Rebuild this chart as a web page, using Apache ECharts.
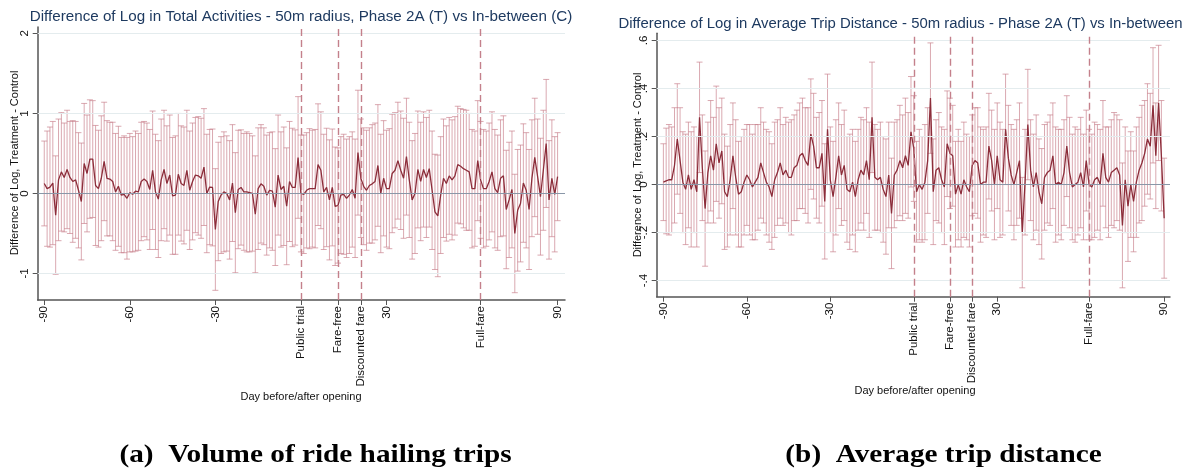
<!DOCTYPE html>
<html>
<head>
<meta charset="utf-8">
<script src="https://cdn.jsdelivr.net/npm/echarts@6/dist/echarts.min.js"></script>
<style>
html, body { margin: 0; padding: 0; background: #fff; }
#chart { width: 1189px; height: 473px; }
</style>
</head>
<body>
<div id="chart"></div>
<script>
// days before/after opening, -90 .. 90
var days = [];
for (var d = -90; d <= 90; d++) days.push(d);

var xTicks = [-90, -60, -30, 30, 90];
var eventDays = [0, 13, 21, 63];
var eventNames = ['Public trial', 'Fare-free', 'Discounted fare', 'Full-fare'];

var yTicksA = [-1, 0, 1, 2];
var yTicksB = [-0.4, -0.2, 0, 0.2, 0.4, 0.6];

// (a) total activities: point estimate and CI half width
var diffA = [
    0.125, 0.06, 0.08, 0.13, -0.27, 0.17, 0.27, 0.2, 0.3, 0.2,
    0.15, 0.17, 0.04, -0.1, 0.375, 0.25, 0.43, 0.43, 0.1, 0.06,
    0.19, 0.4, 0.19, 0.18, 0.15, 0.02, 0.09, -0.02, -0.01, -0.06,
    0.01, -0.01, 0.03, 0.02, 0.15, 0.18, 0.15, 0.05, 0.29, 0.02,
    -0.07, 0.17, 0.3, 0.125, 0.23, -0.03, -0.02, 0.24, 0.125, 0.1,
    0.29, 0.04, 0.15, 0.23, 0.22, 0.19, 0.33, 0, 0.08, 0.075,
    -0.45, -0.1, -0.02, 0.02, 0, -0.08, 0.13, -0.24, 0.05, 0.075,
    0.02, 0.02, 0.01, 0, -0.26, 0.06, 0.12, 0.09, -0.02, 0.04,
    0.03, -0.17, 0.23, 0.05, 0.09, -0.16, 0.15, 0.075, 0.075, 0.45,
    0, -0.01, 0.04, 0.06, 0.06, 0.06, 0.36, 0.29, 0.02, 0.075,
    -0.08, 0.075, -0.16, -0.15, -0.02, -0.01, -0.06, -0.02, 0.05, -0.06,
    0.51, 0.19, 0.09, 0.04, 0.1, 0.12, 0.15, 0.35, 0, 0.19,
    0.06, 0.06, 0.25, 0.29, 0.41, 0.29, 0.19, 0.46, 0.17, -0.08,
    0, 0.3, 0.15, 0.3, 0.2, 0.31, 0.04, -0.23, -0.28, -0.02,
    0.19, 0.125, 0.22, 0.17, 0.22, 0.36, 0.34, 0.31, 0.29, 0.27,
    0.06, 0.06, 0.41, 0.17, 0.06, 0.06, 0.15, 0.27, 0.06, 0.01,
    0.19, 0.22, -0.2, -0.08, 0.05, -0.5, -0.21, -0.125, 0.13, 0.04,
    -0.2, 0.19, 0.45, 0.21, -0.04, 0.29, 0.625, -0.08, 0.19, -0.01,
    0.21
];
var ciA = [
    0.53, 0.72, 0.75, 0.77, 0.74, 0.76, 0.74, 0.68, 0.74, 0.70,
    0.76, 0.73, 0.72, 0.73, 0.75, 0.73, 0.74, 0.73, 0.75, 0.73,
    0.78, 0.74, 0.72, 0.71, 0.74, 0.73, 0.75, 0.72, 0.73, 0.76,
    0.74, 0.72, 0.75, 0.73, 0.74, 0.72, 0.73, 0.75, 0.74, 0.72,
    0.73, 0.76, 0.74, 0.72, 0.75, 0.73, 0.74, 0.76, 0.72, 0.73,
    0.75, 0.74, 0.73, 0.72, 0.74, 0.75, 0.73, 0.74, 0.72, 0.73,
    0.76, 0.74, 0.73, 0.75, 0.72, 0.74, 0.73, 0.75, 0.74, 0.72,
    0.73, 0.75, 0.74, 0.72, 0.73, 0.76, 0.74, 0.73, 0.75, 0.72,
    0.74, 0.73, 0.75, 0.72, 0.74, 0.73, 0.75, 0.74, 0.72, 0.76,
    0.73, 0.74, 0.72, 0.75, 0.73, 0.74, 0.76, 0.73, 0.72, 0.74,
    0.75, 0.73, 0.74, 0.72, 0.73, 0.75, 0.74, 0.73, 0.72, 0.74,
    0.78, 0.74, 0.73, 0.75, 0.72, 0.74, 0.73, 0.76, 0.74, 0.72,
    0.73, 0.75, 0.74, 0.72, 0.73, 0.74, 0.75, 0.73, 0.72, 0.74,
    0.75, 0.73, 0.74, 0.72, 0.75, 0.73, 0.74, 0.72, 0.76, 0.73,
    0.74, 0.72, 0.73, 0.75, 0.74, 0.73, 0.72, 0.74, 0.75, 0.73,
    0.74, 0.72, 0.75, 0.73, 0.74, 0.72, 0.73, 0.75, 0.74, 0.72,
    0.73, 0.75, 0.74, 0.72, 0.73, 0.74, 0.76, 0.73, 0.74, 0.72,
    0.75, 0.73, 0.74, 0.72, 0.73, 0.75, 0.80, 0.74, 0.73, 0.72,
    0.55
];

// (b) average trip distance
var diffB = [
    0.01, 0.015, 0.02, 0.02, 0.08, 0.19, 0.1, 0.01, -0.02, 0.04,
    -0.02, 0.02, -0.03, 0.28, 0.07, -0.1, 0.05, 0.12, 0.06, 0.17,
    0.09, 0.14, -0.03, -0.05, 0.02, 0.12, 0.03, -0.04, -0.03, 0.01,
    0.04, 0.02, -0.01, 0.01, 0.03, 0.09, 0.05, 0.01, -0.01, -0.05,
    0.02, 0.05, 0.09, 0.04, 0.06, 0.03, 0.03, 0.07, 0.08, 0.12,
    0.13, 0.1, 0.08, 0.21, 0.16, 0.07, 0.07, 0.13, -0.07, 0.23,
    0.02, -0.05, 0.03, 0.12, 0.04, 0.08, -0.02, -0.03, 0.01, -0.05,
    0.02, 0.06, 0.04, 0.1, 0.02, 0.28, 0.03, 0.02, 0.03, -0.02,
    -0.05, 0.04, -0.12, 0.04, 0.06, 0.1, 0.07, 0.12, 0.08, 0.22,
    0.15, -0.03, 0, -0.02, 0.01, 0.1, 0.36, -0.03, 0.06, 0.07,
    0.02, -0.01, 0.17, 0.13, 0.12, -0.04, 0, -0.04, 0.02, -0.01,
    -0.03, 0.08, 0.1, 0.09, 0, 0.01, 0.01, 0.16, 0.1, 0,
    0.12, 0.02, 0.01, 0.23, 0.11, 0.04, 0, 0.05, 0.1, -0.2,
    0.01, 0.25, 0.06, -0.01, 0.05, -0.03, -0.08, 0.03, 0.05, 0.06,
    0.12, 0, 0.01, 0, 0.05, 0.16, 0.05, -0.01, 0, 0.01,
    0.05, -0.01, 0.1, 0, -0.01, 0.02, 0.03, 0, 0.13, 0.03,
    0.01, 0.05, 0.06, 0.07, 0.04, -0.17, 0.02, -0.09, 0, -0.07,
    0.01, 0.06, 0.09, 0.13, 0.19, 0.16, 0.33, 0.12, 0.34, 0.12,
    -0.14
];
var ciB = [
    0.16, 0.22, 0.23, 0.22, 0.24, 0.23, 0.22, 0.21, 0.23, 0.22,
    0.24, 0.22, 0.23, 0.23, 0.22, 0.24, 0.21, 0.23, 0.22, 0.24,
    0.23, 0.22, 0.24, 0.21, 0.23, 0.22, 0.24, 0.22, 0.23, 0.22,
    0.21, 0.23, 0.22, 0.24, 0.22, 0.23, 0.21, 0.22, 0.23, 0.22,
    0.24, 0.22, 0.23, 0.21, 0.22, 0.23, 0.24, 0.22, 0.23, 0.22,
    0.23, 0.22, 0.24, 0.23, 0.22, 0.21, 0.23, 0.22, 0.24, 0.23,
    0.22, 0.23, 0.24, 0.22, 0.21, 0.23, 0.22, 0.24, 0.22, 0.23,
    0.21, 0.22, 0.23, 0.22, 0.24, 0.23, 0.22, 0.21, 0.23, 0.22,
    0.24, 0.22, 0.23, 0.22, 0.21, 0.23, 0.22, 0.24, 0.22, 0.23,
    0.22, 0.21, 0.23, 0.22, 0.24, 0.22, 0.23, 0.22, 0.21, 0.23,
    0.22, 0.24, 0.22, 0.23, 0.21, 0.22, 0.23, 0.22, 0.24, 0.22,
    0.23, 0.21, 0.22, 0.23, 0.24, 0.22, 0.23, 0.22, 0.21, 0.23,
    0.22, 0.24, 0.22, 0.23, 0.22, 0.21, 0.23, 0.22, 0.24, 0.23,
    0.22, 0.23, 0.21, 0.22, 0.24, 0.22, 0.23, 0.22, 0.21, 0.23,
    0.22, 0.24, 0.22, 0.23, 0.22, 0.21, 0.23, 0.22, 0.24, 0.22,
    0.23, 0.22, 0.21, 0.23, 0.22, 0.24, 0.22, 0.23, 0.22, 0.21,
    0.23, 0.22, 0.24, 0.22, 0.23, 0.26, 0.22, 0.23, 0.22, 0.21,
    0.23, 0.22, 0.24, 0.22, 0.23, 0.22, 0.24, 0.22, 0.24, 0.23,
    0.25
];

var lineColor = '#8c2d3a';
var barColor = 'rgba(200,128,140,0.68)';
var dashColor = '#c4808b';
var axisColor = '#555';
var font = '"Liberation Sans", Arial, sans-serif';
var capFont = 'bold 25px "Liberation Serif", "Times New Roman", serif';

function pairs(v) {
    return days.map(function (d, i) { return [d, v[i]]; });
}
function bars(v, ci) {
    return days.map(function (d, i) { return [d, v[i] - ci[i], v[i] + ci[i]]; });
}

function errorBar(params, api) {
    var x = api.value(0);
    var lo = api.coord([x, api.value(1)]);
    var hi = api.coord([x, api.value(2)]);
    var w = 3;
    var st = { stroke: barColor, lineWidth: 1 };
    return {
        type: 'group',
        children: [
            { type: 'line', shape: { x1: hi[0], y1: hi[1], x2: lo[0], y2: lo[1] }, style: st },
            { type: 'line', shape: { x1: hi[0] - w, y1: hi[1], x2: hi[0] + w, y2: hi[1] }, style: st },
            { type: 'line', shape: { x1: lo[0] - w, y1: lo[1], x2: lo[0] + w, y2: lo[1] }, style: st }
        ]
    };
}

function xLabel(v) {
    var k = eventDays.indexOf(v);
    return k >= 0 ? eventNames[k] : String(v);
}
function yLabelB(v) {
    if (Math.abs(v) < 1e-9) return '0';
    var s = String(Math.round(Math.abs(v) * 10) / 10).replace(/^0/, '');
    return (v < 0 ? '-' : '') + s;
}

function xAxisCfg(idx, min, max) {
    return {
        type: 'value', gridIndex: idx, min: min, max: max,
        axisLine: { onZero: false, lineStyle: { color: axisColor, width: 1.5 } },
        axisTick: { customValues: xTicks.concat(eventDays), length: 5, lineStyle: { color: axisColor } },
        axisLabel: {
            customValues: xTicks.concat(eventDays), rotate: 90, formatter: xLabel,
            color: '#111', fontSize: 11.5, fontFamily: font, margin: 6
        },
        splitLine: { show: false }
    };
}
function yAxisCfg(idx, min, max, ticks, fmt) {
    return {
        type: 'value', gridIndex: idx, min: min, max: max,
        axisLine: { show: true, onZero: false, lineStyle: { color: axisColor, width: 1.5 } },
        axisTick: { show: true, customValues: ticks, length: 5, lineStyle: { color: axisColor } },
        axisLabel: {
            customValues: ticks, rotate: 90, formatter: fmt,
            color: '#111', fontSize: 11.5, fontFamily: font, margin: 7
        },
        splitLine: { show: false }
    };
}

function gridLines(ticks) {
    return ticks.map(function (t) {
        var zero = Math.abs(t) < 1e-9;
        return {
            yAxis: t,
            lineStyle: { color: zero ? '#8a97a8' : '#e4ecee', width: 1, type: 'solid' }
        };
    });
}
function eventLines() {
    return eventDays.map(function (d) {
        return { xAxis: d, lineStyle: { color: dashColor, width: 1.4, type: [7, 4] } };
    });
}

function panelSeries(idx, v, ci, ticks) {
    return [
        {
            type: 'line', xAxisIndex: idx, yAxisIndex: idx, data: pairs(v), z: 1,
            symbol: 'none', lineStyle: { opacity: 0 }, silent: true,
            markLine: { symbol: 'none', silent: true, label: { show: false }, data: gridLines(ticks) }
        },
        {
            type: 'custom', xAxisIndex: idx, yAxisIndex: idx, z: 2, silent: true,
            renderItem: errorBar, encode: { x: 0, y: [1, 2] }, data: bars(v, ci)
        },
        {
            type: 'line', xAxisIndex: idx, yAxisIndex: idx, z: 3, data: pairs(v),
            symbol: 'none', lineStyle: { color: lineColor, width: 1.3 },
            markLine: { symbol: 'none', silent: true, label: { show: false }, data: eventLines() }
        }
    ];
}

var chart = echarts.init(document.getElementById('chart'));
var option = {
    animation: false,
    backgroundColor: '#fff',
    grid: [
        { left: 37.7, top: 27, width: 527.3, height: 273 },
        { left: 656.7, top: 33.3, width: 513.3, height: 263.4 }
    ],
    xAxis: [xAxisCfg(0, -92.3, 92.6), xAxisCfg(1, -92.4, 92.1)],
    yAxis: [
        yAxisCfg(0, -1.331, 2.08, yTicksA, function (v) { return String(v); }),
        yAxisCfg(1, -0.467, 0.63, yTicksB, yLabelB)
    ],
    series: panelSeries(0, diffA, ciA, yTicksA).concat(panelSeries(1, diffB, ciB, yTicksB)),
    graphic: [
        { type: 'text', x: 301, y: 17, style: { text: 'Difference of Log in Total Activities - 50m radius, Phase 2A (T) vs In-between (C)', font: '15.2px ' + font, fill: '#1e3a60', textAlign: 'center', textVerticalAlign: 'middle' } },
        { type: 'text', x: 900.5, y: 24, style: { text: 'Difference of Log in Average Trip Distance - 50m radius - Phase 2A (T) vs In-between', font: '14.9px ' + font, fill: '#1e3a60', textAlign: 'center', textVerticalAlign: 'middle' } },
        { type: 'text', x: 15, y: 163, rotation: Math.PI / 2, style: { text: 'Difference of Log, Treatment - Control', font: '11px ' + font, fill: '#111', textAlign: 'center', textVerticalAlign: 'middle' } },
        { type: 'text', x: 638, y: 165, rotation: Math.PI / 2, style: { text: 'Difference of Log, Treatment - Control', font: '11px ' + font, fill: '#111', textAlign: 'center', textVerticalAlign: 'middle' } },
        { type: 'text', x: 301, y: 397, style: { text: 'Day before/after opening', font: '11px ' + font, fill: '#111', textAlign: 'center', textVerticalAlign: 'middle' } },
        { type: 'text', x: 915, y: 391, style: { text: 'Day before/after opening', font: '11px ' + font, fill: '#111', textAlign: 'center', textVerticalAlign: 'middle' } },
        { type: 'text', x: 315.5, y: 456, scaleX: 1.17, style: { text: '(a)  Volume of ride hailing trips', font: capFont, fill: '#000', textAlign: 'center', textVerticalAlign: 'middle' } },
        { type: 'text', x: 943.5, y: 456, scaleX: 1.17, style: { text: '(b)  Average trip distance', font: capFont, fill: '#000', textAlign: 'center', textVerticalAlign: 'middle' } }
    ]
};
chart.setOption(option);
</script>
</body>
</html>
